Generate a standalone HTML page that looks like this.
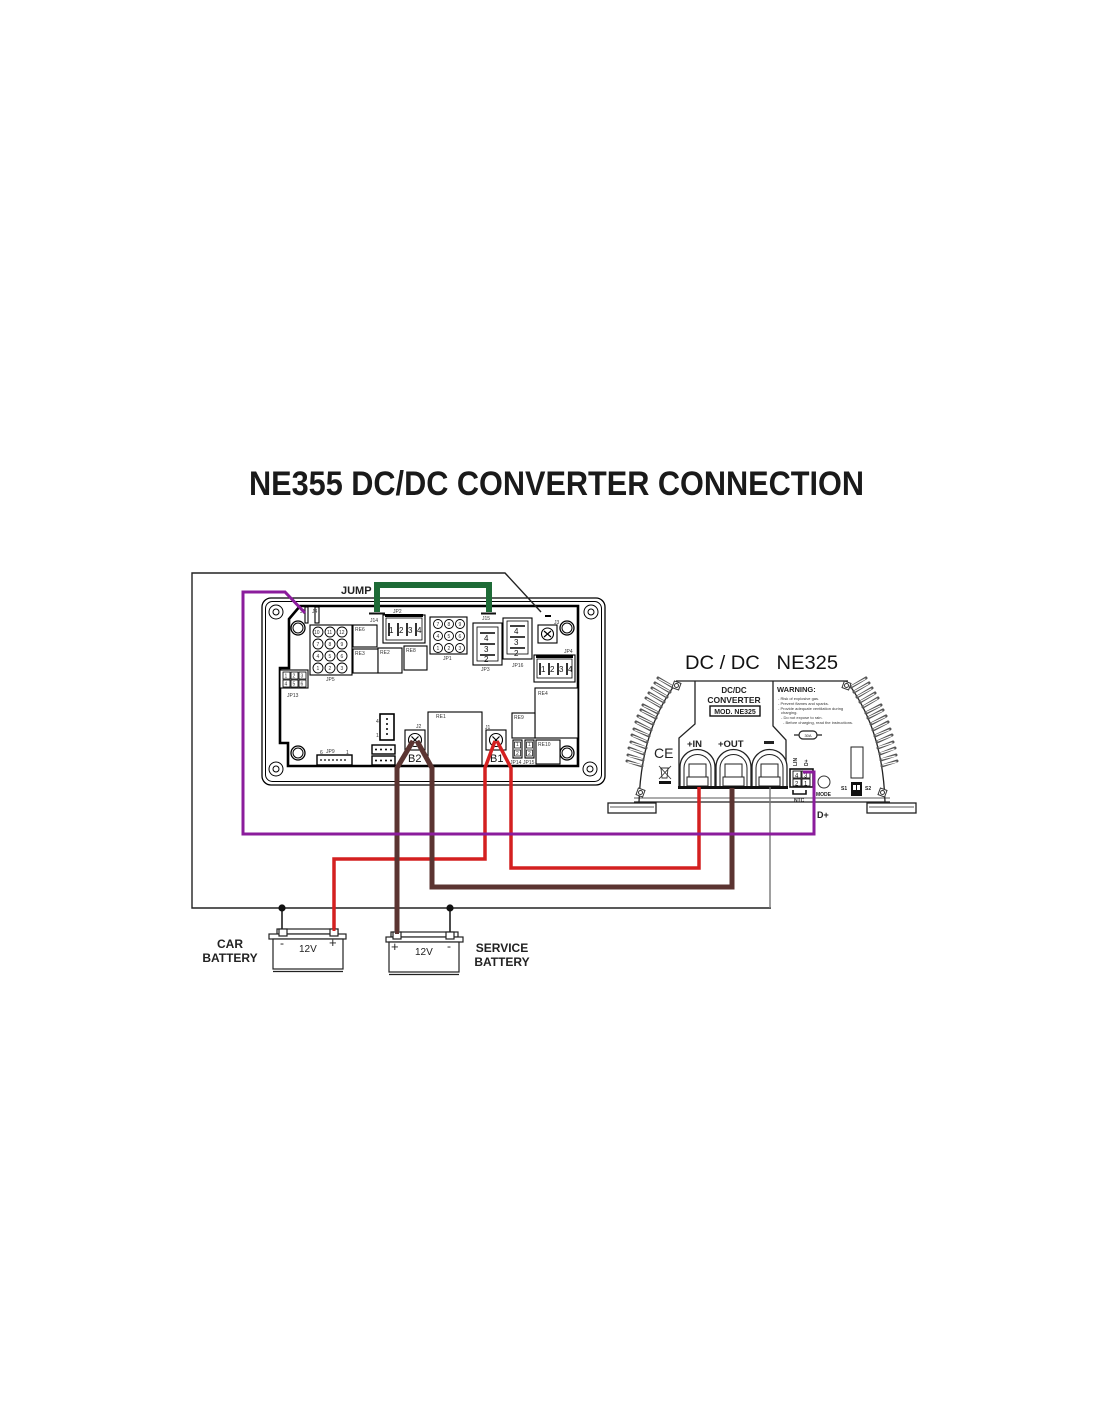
<!DOCTYPE html>
<html><head><meta charset="utf-8"><style>
html,body{margin:0;padding:0;background:#fff;}
svg{display:block;}
text{font-family:"Liberation Sans",Arial,sans-serif;}
</style></head><body>
<svg width="1100" height="1422" viewBox="0 0 1100 1422" xmlns="http://www.w3.org/2000/svg">
<rect width="1100" height="1422" fill="#fff"/>

<!-- Title -->
<text x="249" y="495" font-size="34" font-weight="bold" fill="#1a1a1a" textLength="615" lengthAdjust="spacingAndGlyphs">NE355 DC/DC CONVERTER CONNECTION</text>

<!-- ===== NE355 board ===== -->
<g fill="none" stroke="#000">
  <rect x="262" y="598" width="343" height="187" rx="9" stroke-width="1.3"/>
  <rect x="265.5" y="601.5" width="336" height="180" rx="7" stroke-width="1"/>
  <path d="M300,606 L578,606 L578,766 L288,766 L288,743 L280,743 L280,668 L289,668 L289,619 Z" stroke-width="2.6"/>
  <!-- case holes -->
  <circle cx="276" cy="612" r="7" stroke-width="1"/><circle cx="276" cy="612" r="3" stroke-width="1"/>
  <circle cx="591" cy="612" r="7" stroke-width="1"/><circle cx="591" cy="612" r="3" stroke-width="1"/>
  <circle cx="276" cy="769" r="7" stroke-width="1"/><circle cx="276" cy="769" r="3" stroke-width="1"/>
  <circle cx="590" cy="769" r="7" stroke-width="1"/><circle cx="590" cy="769" r="3" stroke-width="1"/>
  <!-- pcb holes -->
  <circle cx="298" cy="628" r="7" stroke-width="1.3"/><circle cx="298" cy="628" r="5" stroke-width="1"/>
  <circle cx="567" cy="628" r="7" stroke-width="1.3"/><circle cx="567" cy="628" r="5" stroke-width="1"/>
  <circle cx="298" cy="753" r="7" stroke-width="1.3"/><circle cx="298" cy="753" r="5" stroke-width="1"/>
  <circle cx="567" cy="753" r="7" stroke-width="1.3"/><circle cx="567" cy="753" r="5" stroke-width="1"/>
</g>

<g fill="#fff" stroke="#000" stroke-width="1.1">
  <rect x="305" y="607" width="3" height="16"/>
  <rect x="315" y="607" width="4" height="16"/>
  <rect x="310" y="625" width="42" height="50"/>
  <g stroke-width="0.9">
    <circle cx="318" cy="632" r="5"/><circle cx="330" cy="632" r="5"/><circle cx="342" cy="632" r="5"/>
    <circle cx="318" cy="644" r="5"/><circle cx="330" cy="644" r="5"/><circle cx="342" cy="644" r="5"/>
    <circle cx="318" cy="656" r="5"/><circle cx="330" cy="656" r="5"/><circle cx="342" cy="656" r="5"/>
    <circle cx="318" cy="668" r="5"/><circle cx="330" cy="668" r="5"/><circle cx="342" cy="668" r="5"/>
  </g>
  <rect x="353" y="625" width="24" height="22"/>
  <rect x="353" y="649" width="25" height="24"/>
  <rect x="378" y="648" width="24" height="25"/>
  <rect x="404" y="646" width="23" height="24"/>
  <rect x="383" y="615" width="42" height="28"/>
  <rect x="386" y="618" width="36" height="22" stroke-width="0.8"/>
  <rect x="430" y="617" width="37" height="37"/>
  <g stroke-width="0.9">
    <circle cx="438" cy="624" r="4.5"/><circle cx="449" cy="624" r="4.5"/><circle cx="460" cy="624" r="4.5"/>
    <circle cx="438" cy="636" r="4.5"/><circle cx="449" cy="636" r="4.5"/><circle cx="460" cy="636" r="4.5"/>
    <circle cx="438" cy="648" r="4.5"/><circle cx="449" cy="648" r="4.5"/><circle cx="460" cy="648" r="4.5"/>
  </g>
  <rect x="473" y="623" width="29" height="42"/>
  <rect x="477" y="627" width="21" height="34" stroke-width="0.8"/>
  <rect x="503" y="618" width="29" height="41"/>
  <rect x="507" y="621" width="21" height="33" stroke-width="0.8"/>
  <rect x="538" y="625" width="19" height="18"/>
  <circle cx="547.5" cy="634" r="6"/>
  <rect x="534" y="655" width="41" height="27"/>
  <rect x="537" y="659" width="35" height="19" stroke-width="0.8"/>
  <rect x="280" y="670" width="28" height="18"/>
  <g stroke-width="0.8">
    <rect x="283" y="672" width="7" height="7"/><rect x="291" y="672" width="7" height="7"/><rect x="299" y="672" width="7" height="7"/>
    <rect x="283" y="680" width="7" height="7"/><rect x="291" y="680" width="7" height="7"/><rect x="299" y="680" width="7" height="7"/>
  </g>
  <rect x="535" y="688" width="43" height="50"/>
  <rect x="428" y="712" width="54" height="53"/>
  <rect x="512" y="713" width="23" height="25"/>
  <rect x="536" y="740" width="24" height="24"/>
  <rect x="513" y="740" width="9" height="18"/>
  <rect x="525" y="740" width="9" height="18"/>
  <rect x="514.5" y="742" width="6" height="6" stroke-width="0.7"/><rect x="514.5" y="750" width="6" height="6" stroke-width="0.7"/>
  <rect x="526.5" y="742" width="6" height="6" stroke-width="0.7"/><rect x="526.5" y="750" width="6" height="6" stroke-width="0.7"/>
  <rect x="486" y="730" width="20" height="20"/>
  <circle cx="496" cy="740" r="6.5"/>
  <rect x="405" y="730" width="20" height="20"/>
  <circle cx="415" cy="740" r="6.5"/>
  <rect x="380" y="714" width="14" height="26" stroke-width="1.6"/>
  <rect x="372" y="745" width="23" height="9" stroke-width="1.4"/>
  <rect x="372" y="756" width="23" height="9" stroke-width="1.4"/>
  <rect x="317" y="755" width="35" height="10" stroke-width="1.4"/>
</g>
<g stroke="#000" stroke-width="1.2">
  <path d="M544,631 L551,637 M551,631 L544,637"/>
  <path d="M492.5,736.5 L499.5,743.5 M499.5,736.5 L492.5,743.5"/>
  <path d="M411.5,736.5 L418.5,743.5 M418.5,736.5 L411.5,743.5"/>
  <path d="M389,623 V636 M398,623 V636 M407,623 V636 M416,623 V636" stroke-width="1.6"/>
  <path d="M540,663 V675 M549,663 V675 M558,663 V675 M567,663 V675" stroke-width="1.6"/>
  <path d="M480,633 H495 M480,644 H495 M480,655 H495" stroke-width="1.6"/>
  <path d="M510,626 H525 M510,637 H525 M510,648 H525" stroke-width="1.6"/>
  <path d="M545,616 H551" stroke-width="2"/>
</g>
<g fill="#000">
  <rect x="385" y="614" width="38" height="3"/>
  <rect x="536" y="655" width="37" height="3"/>
  <circle cx="387" cy="719" r="1"/><circle cx="387" cy="724" r="1"/><circle cx="387" cy="729" r="1"/><circle cx="387" cy="734" r="1"/>
  <circle cx="376" cy="749.5" r="1"/><circle cx="381" cy="749.5" r="1"/><circle cx="386" cy="749.5" r="1"/><circle cx="391" cy="749.5" r="1"/>
  <circle cx="376" cy="760.5" r="1"/><circle cx="381" cy="760.5" r="1"/><circle cx="386" cy="760.5" r="1"/><circle cx="391" cy="760.5" r="1"/>
  <circle cx="321" cy="760" r="0.9"/><circle cx="325" cy="760" r="0.9"/><circle cx="329" cy="760" r="0.9"/><circle cx="333" cy="760" r="0.9"/><circle cx="337" cy="760" r="0.9"/><circle cx="341" cy="760" r="0.9"/><circle cx="345" cy="760" r="0.9"/>
</g>
<g font-size="5" fill="#333">
  <text x="300" y="613">J5</text><text x="312" y="613">J4</text>
  <text x="314" y="634">10</text><text x="327" y="634">11</text><text x="339" y="634">12</text>
  <text x="316.5" y="646">7</text><text x="328.5" y="646">8</text><text x="340.5" y="646">9</text>
  <text x="316.5" y="658">4</text><text x="328.5" y="658">5</text><text x="340.5" y="658">6</text>
  <text x="316.5" y="670">1</text><text x="328.5" y="670">2</text><text x="340.5" y="670">3</text>
  <text x="326" y="681">JP5</text>
  <text x="355" y="631">RE6</text><text x="355" y="655">RE3</text><text x="380" y="654">RE2</text><text x="406" y="652">RE8</text>
  <text x="393" y="613">JP2</text>
  <text x="370" y="622">J14</text>
  <text x="436.5" y="626">7</text><text x="447.5" y="626">8</text><text x="458.5" y="626">9</text>
  <text x="436.5" y="638">4</text><text x="447.5" y="638">5</text><text x="458.5" y="638">6</text>
  <text x="436.5" y="650">1</text><text x="447.5" y="650">2</text><text x="458.5" y="650">3</text>
  <text x="443" y="660">JP1</text>
  <text x="481" y="671">JP3</text>
  <text x="482" y="620">J15</text>
  <text x="512" y="667">JP16</text>
  <text x="554" y="624">J3</text>
  <text x="564" y="653">JP4</text>
  <text x="284.5" y="677.5">1</text><text x="292.5" y="677.5">2</text><text x="300.5" y="677.5">3</text>
  <text x="284.5" y="685.5">4</text><text x="292.5" y="685.5">5</text><text x="300.5" y="685.5">6</text>
  <text x="287" y="697">JP13</text>
  <text x="538" y="695">RE4</text>
  <text x="436" y="718">RE1</text>
  <text x="514" y="719">RE9</text>
  <text x="538" y="746">RE10</text>
  <text x="516" y="746">1</text><text x="516" y="755">2</text><text x="528" y="746">1</text><text x="528" y="755">2</text>
  <text x="510" y="764">JP14</text><text x="523" y="764">JP15</text>
  <text x="485" y="729">J1</text>
  <text x="416" y="728">J2</text>
  <text x="376" y="723">4</text><text x="376" y="737">1</text>
  <text x="326" y="753">JP9</text><text x="320" y="754">6</text><text x="346" y="754">1</text>
</g>
<g font-size="8" fill="#111">
  <text x="389" y="633">1</text><text x="399" y="633">2</text><text x="408" y="633">3</text><text x="417" y="633">4</text>
  <text x="541" y="672">1</text><text x="550" y="672">2</text><text x="559" y="672">3</text><text x="568" y="672">4</text>
  <text x="484" y="641">4</text><text x="484" y="652">3</text><text x="484" y="662">2</text>
  <text x="514" y="634">4</text><text x="514" y="645">3</text><text x="514" y="656">2</text>
</g>
<text x="408" y="762" font-size="11" fill="#111">B2</text>
<text x="490" y="762" font-size="11" fill="#111">B1</text>
<text x="341" y="594" font-size="11" font-weight="bold" fill="#222">JUMP</text>

<!-- ===== Converter NE325 ===== -->
<text x="685" y="669" font-size="19" fill="#111" textLength="153" lengthAdjust="spacingAndGlyphs" xml:space="preserve">DC / DC   NE325</text>

<g fill="none" stroke="#222" stroke-width="1.3">
  <line x1="676" y1="681" x2="848" y2="681"/>
  <path d="M676,683 C660,705 641,740 639,802"/>
  <path d="M848,683 C864,705 883,740 885,802"/>
  <line x1="634" y1="802" x2="890" y2="802"/>
  <line x1="634" y1="798" x2="890" y2="798" stroke-width="0.8"/>
  <rect x="608" y="803" width="48" height="10"/>
  <line x1="610" y1="807" x2="654" y2="807" stroke-width="0.8"/>
  <rect x="867" y="803" width="49" height="10"/>
  <line x1="869" y1="807" x2="914" y2="807" stroke-width="0.8"/>
  <path d="M695,681 V724 L679,738 V787"/>
  <path d="M773,681 V726 L786,740 V787"/>
</g>
<!-- fins -->
<g stroke="#555" stroke-width="3" stroke-linecap="round" fill="none">
  <path d="M673,687 L658,678 M670,692 L655,683 M667,697 L652,688 M664,702 L649,693 M661,707 L646,698 M658,713 L643,705 M656,718 L641,710 M653,724 L638,716 M651,730 L636,722 M649,736 L634,729 M647,742 L632,735 M646,748 L631,742 M644,754 L629,748 M643,760 L628,755 M642,766 L627,761"/>
  <path d="M851,687 L866,678 M854,692 L869,683 M857,697 L872,688 M860,702 L875,693 M863,707 L878,698 M866,713 L881,705 M868,718 L883,710 M871,724 L886,716 M873,730 L888,722 M875,736 L890,729 M877,742 L892,735 M878,748 L893,742 M880,754 L895,748 M881,760 L896,755 M882,766 L897,761"/>
</g>
<g stroke="#fff" stroke-width="1.2" stroke-linecap="round" fill="none">
  <path d="M672,686 L659,679 M669,691 L656,684 M666,696 L653,689 M663,701 L650,694 M660,706 L647,699 M657,712 L644,706 M655,717 L642,711 M652,723 L639,717 M650,729 L637,723 M648,735 L635,730 M646,741 L633,736 M645,747 L632,743 M643,753 L630,749 M642,759 L629,756 M641,765 L628,762"/>
  <path d="M852,686 L865,679 M855,691 L868,684 M858,696 L871,689 M861,701 L874,694 M864,706 L877,699 M867,712 L880,706 M869,717 L882,711 M872,723 L885,717 M874,729 L887,723 M876,735 L889,730 M878,741 L891,736 M879,747 L892,743 M881,753 L894,749 M882,759 L895,756 M883,765 L896,762"/>
</g>
<g fill="#fff" stroke="#333" stroke-width="1">
  <rect x="673" y="682" width="7" height="7" transform="rotate(20 676.5 685.5)"/><circle cx="676.5" cy="685.5" r="2"/>
  <rect x="843" y="682" width="7" height="7" transform="rotate(20 846.5 685.5)"/><circle cx="846.5" cy="685.5" r="2"/>
  <rect x="637" y="789" width="7" height="7" transform="rotate(20 640.5 792.5)"/><circle cx="640.5" cy="792.5" r="2"/>
  <rect x="879" y="789" width="7" height="7" transform="rotate(20 882.5 792.5)"/><circle cx="882.5" cy="792.5" r="2"/>
</g>
<g font-weight="bold" fill="#222" text-anchor="middle">
  <text x="734" y="693" font-size="8">DC/DC</text>
  <text x="734" y="703" font-size="8.5">CONVERTER</text>
  <text x="735" y="714" font-size="7">MOD. NE325</text>
</g>
<rect x="710" y="706" width="50" height="10" fill="none" stroke="#111" stroke-width="1.4"/>
<text x="777" y="692" font-size="7.5" font-weight="bold" fill="#222">WARNING:</text>
<g font-size="4" fill="#333">
  <text x="778" y="700">- Risk of explosive gas.</text>
  <text x="778" y="705">- Prevent flames and sparks.</text>
  <text x="778" y="710">- Provide adequate ventilation during</text>
  <text x="781" y="714">charging.</text>
  <text x="781" y="719">- Do not expose to rain.</text>
  <text x="783" y="724">- Before charging, read the instructions.</text>
</g>
<g stroke="#222" stroke-width="1.2" fill="#fff">
  <line x1="794" y1="735" x2="822" y2="735"/>
  <rect x="799" y="731" width="18" height="8" rx="4"/>
</g>
<text x="808" y="737" font-size="4" fill="#222" text-anchor="middle">30A</text>
<g fill="#fff" stroke="#222" stroke-width="1.3">
  <path d="M680,787 V767 A17.5,17.5 0 0 1 715,767 V787"/>
  <path d="M716,787 V767 A17.5,17.5 0 0 1 751,767 V787"/>
  <path d="M752,787 V767 A17.5,17.5 0 0 1 787,767 V787"/>
  <path d="M684,787 V768 A13.5,13.5 0 0 1 711,768 V787" stroke-width="1"/>
  <path d="M720,787 V768 A13.5,13.5 0 0 1 747,768 V787" stroke-width="1"/>
  <path d="M756,787 V768 A13.5,13.5 0 0 1 783,768 V787" stroke-width="1"/>
  <rect x="689" y="764" width="17" height="13" stroke-width="1"/>
  <rect x="725" y="764" width="17" height="13" stroke-width="1"/>
  <rect x="761" y="764" width="17" height="13" stroke-width="1"/>
  <rect x="687" y="777" width="21" height="9" stroke-width="1"/>
  <rect x="723" y="777" width="21" height="9" stroke-width="1"/>
  <rect x="759" y="777" width="21" height="9" stroke-width="1"/>
</g>
<rect x="678" y="786" width="110" height="3" fill="#111"/>
<g font-weight="bold" fill="#222" font-size="9.5">
  <text x="687" y="747">+IN</text>
  <text x="718" y="747">+OUT</text>
</g>
<rect x="764" y="741" width="10" height="3" fill="#222"/>
<text x="654" y="758" font-size="14" fill="#222">CE</text>
<g stroke="#333" stroke-width="0.9" fill="none">
  <path d="M660,768 H669 M661,768 L662,778 H667 L668,768 M659,766 L671,779 M671,766 L659,779"/>
</g>
<rect x="659" y="781" width="12" height="3" fill="#111"/>
<rect x="790" y="769" width="23" height="18" fill="#fff" stroke="#111" stroke-width="1.6"/>
<g fill="#fff" stroke="#111" stroke-width="0.9">
  <rect x="793" y="771" width="8" height="7"/><rect x="802" y="771" width="8" height="7"/>
  <rect x="793" y="779" width="8" height="7"/><rect x="802" y="779" width="8" height="7"/>
</g>
<g font-size="6" fill="#111">
  <text x="795" y="777.5">4</text><text x="804" y="777.5">3</text>
  <text x="795" y="785.5">2</text><text x="804" y="785.5">1</text>
</g>
<g font-size="5" font-weight="bold" fill="#222">
  <text transform="translate(797,766) rotate(-90)">LIN</text>
  <text transform="translate(808,766) rotate(-90)">D+</text>
  <text x="794" y="802">NTC</text>
  <text x="816" y="796">MODE</text>
  <text x="841" y="790">S1</text>
  <text x="865" y="790">S2</text>
</g>
<path d="M793,790 V794 H806 V790" fill="none" stroke="#111" stroke-width="1.6"/>
<circle cx="824" cy="782" r="6" fill="#fff" stroke="#333" stroke-width="1"/>
<rect x="851" y="747" width="12" height="31" fill="none" stroke="#222" stroke-width="1"/>
<rect x="851" y="782" width="11" height="14" fill="#111"/>
<rect x="853" y="785" width="3" height="5" fill="#fff"/><rect x="857" y="785" width="3" height="5" fill="#fff"/>
<text x="817" y="818" font-size="9" font-weight="bold" fill="#222">D+</text>

<!-- ===== Wiring ===== -->
<polyline points="541,612 505,573 192,573 192,908 771,908" fill="none" stroke="#222" stroke-width="1.4"/>
<line x1="770" y1="787" x2="770" y2="908" stroke="#777" stroke-width="1.4"/>
<line x1="282" y1="908" x2="282" y2="930" stroke="#111" stroke-width="1.5"/>
<line x1="450" y1="908" x2="450" y2="934" stroke="#111" stroke-width="1.5"/>
<circle cx="282" cy="908" r="3.6" fill="#111"/>
<circle cx="450" cy="908" r="3.6" fill="#111"/>

<polyline points="377,612 377,585 489,585 489,612" fill="none" stroke="#1e6b37" stroke-width="6"/>
<line x1="369" y1="613.5" x2="385" y2="613.5" stroke="#111" stroke-width="2"/>
<line x1="481" y1="613.5" x2="496" y2="613.5" stroke="#111" stroke-width="2"/>

<polyline points="495,741 485,768 485,859 334,859 334,931" fill="none" stroke="#d42020" stroke-width="3.5"/>
<polyline points="497,741 511,768 511,868 699,868 699,787" fill="none" stroke="#d42020" stroke-width="3.5"/>
<polyline points="413,741 397,768 397,931" fill="none" stroke="#5b3431" stroke-width="5"/>
<polyline points="417,741 432,768 432,887 732,887 732,788" fill="none" stroke="#5b3431" stroke-width="5"/>
<polyline points="305,613 285,592 243,592 243,834 814,834 814,772 803,772" fill="none" stroke="#8b1c9c" stroke-width="3"/>

<!-- ===== Batteries ===== -->
<g fill="#fff" stroke="#222" stroke-width="1.2">
  <rect x="277" y="929" width="61" height="5"/>
  <rect x="269" y="934" width="77" height="5"/>
  <rect x="273" y="939" width="70" height="30"/>
  <rect x="279" y="929" width="8" height="7"/>
  <rect x="330" y="929" width="8" height="7"/>
  <rect x="391" y="932" width="67" height="5"/>
  <rect x="386" y="937" width="77" height="5"/>
  <rect x="389" y="942" width="70" height="30"/>
  <rect x="393" y="932" width="8" height="7"/>
  <rect x="446" y="932" width="8" height="7"/>
</g>
<line x1="273" y1="971.5" x2="343" y2="971.5" stroke="#222" stroke-width="1.2"/>
<line x1="389" y1="974.5" x2="459" y2="974.5" stroke="#222" stroke-width="1.2"/>
<line x1="334" y1="920" x2="334" y2="931" stroke="#d42020" stroke-width="3"/>
<line x1="397" y1="920" x2="397" y2="934" stroke="#5b3431" stroke-width="4"/>
<g fill="#222">
  <text x="280" y="947" font-size="12">-</text>
  <text x="299" y="952" font-size="10">12V</text>
  <text x="329" y="947" font-size="13">+</text>
  <text x="391" y="951" font-size="13">+</text>
  <text x="415" y="955" font-size="10">12V</text>
  <text x="447" y="950" font-size="12">-</text>
</g>
<g font-size="12" font-weight="bold" fill="#222" text-anchor="middle">
  <text x="230" y="948">CAR</text>
  <text x="230" y="962">BATTERY</text>
  <text x="502" y="952">SERVICE</text>
  <text x="502" y="966">BATTERY</text>
</g>
</svg>
</body></html>
